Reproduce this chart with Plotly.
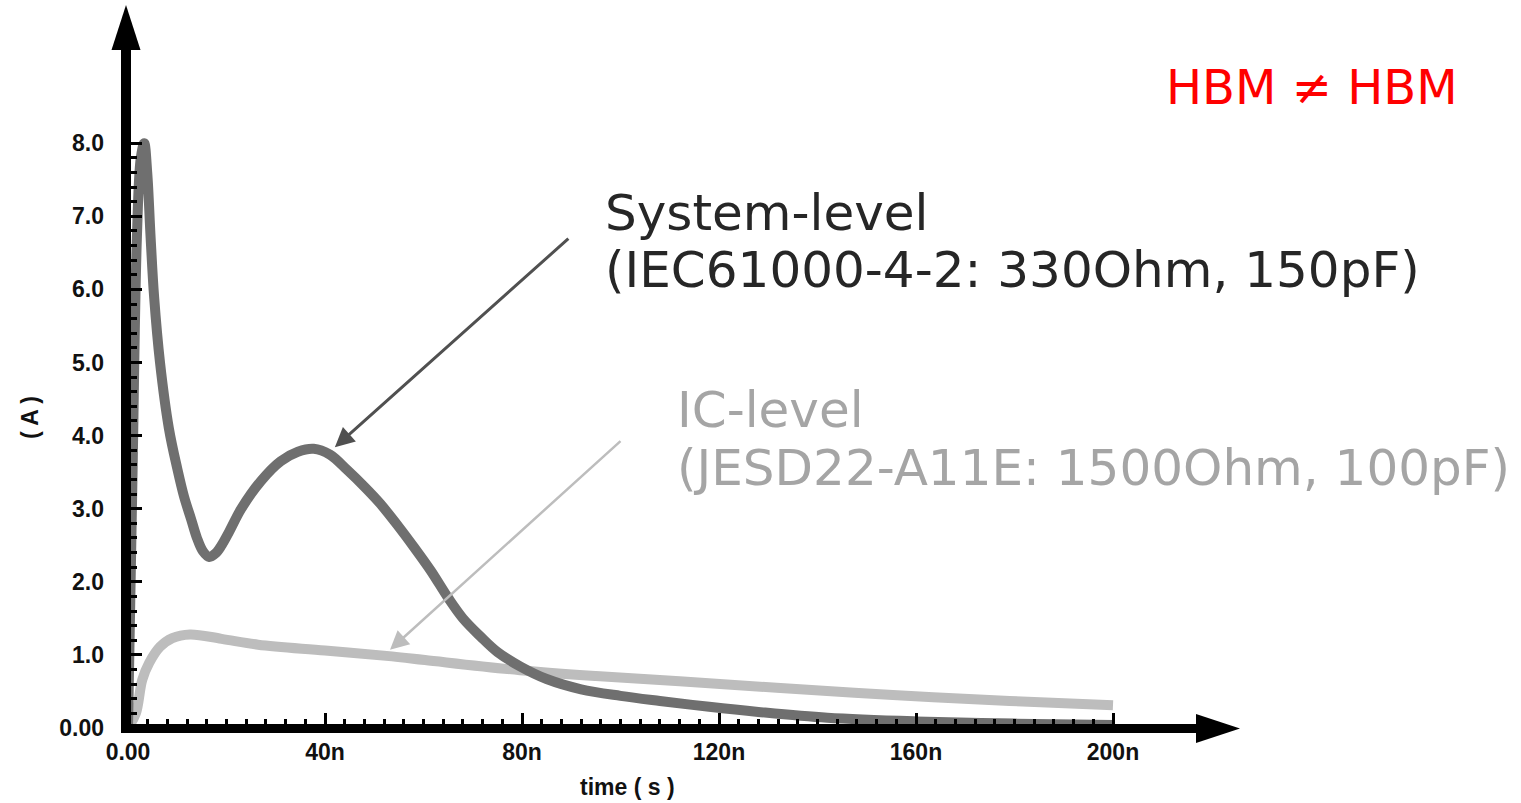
import plotly.graph_objects as go

# ---- data -------------------------------------------------------------
# System-level discharge current (IEC61000-4-2: 330 Ohm, 150 pF)
t_system_ns = [0, 0.9, 1.8, 2.6, 3.3, 3.9, 4.6, 5.3, 6.5, 8.3, 10, 11.4, 12.8,
               14, 15.2, 16.5, 17.8, 19, 20.5, 23, 27, 31, 34.5, 37.7, 41,
               44.5, 48, 51.2, 55, 58, 61.5, 65, 68, 71.6, 75, 79.7, 85, 92,
               100, 108, 118, 128, 142, 160, 180, 200]
i_system_a = [0, 3.4, 6.7, 7.8, 8.0, 7.6, 6.7, 5.9, 5.0, 4.1, 3.55, 3.16, 2.86,
              2.6, 2.42, 2.34, 2.39, 2.5, 2.68, 3.0, 3.38, 3.65, 3.78, 3.82,
              3.74, 3.53, 3.3, 3.07, 2.75, 2.48, 2.15, 1.78, 1.5, 1.25, 1.04,
              0.84, 0.67, 0.53, 0.44, 0.37, 0.29, 0.22, 0.14, 0.09, 0.06, 0.04]

# IC-level discharge current (JESD22-A11E: 1500 Ohm, 100 pF)
t_ic_ns = [0, 1.6, 2.9, 4.3, 6.5, 9, 12.6, 19, 26.4, 40, 53.6, 60.3, 79.6,
           95, 112, 131.7, 155.3, 179, 200]
i_ic_a = [0, 0.2, 0.66, 0.89, 1.11, 1.23, 1.28, 1.22, 1.14, 1.06, 0.98, 0.93,
          0.79, 0.71, 0.64, 0.55, 0.45, 0.37, 0.31]

# axis ticks
x_major = [0, 40, 80, 120, 160, 200]
x_major_text = ["0.00", "40n", "80n", "120n", "160n", "200n"]
x_minor = list(range(0, 201, 4))
y_major = [0, 1, 2, 3, 4, 5, 6, 7, 8]
y_major_text = ["0.00", "1.0", "2.0", "3.0", "4.0", "5.0", "6.0", "7.0", "8.0"]
y_minor = [k / 5 for k in range(0, 41)]

# ---- geometry (pixels) ------------------------------------------------
W, H = 1521, 803
X0_PX, X_SCALE = 128, 4.925      # pixel of t = 0, pixels per ns
Y0_PX, Y_SCALE = 728, 73.1       # pixel of I = 0, pixels per A
PLOT_RIGHT, PLOT_TOP = 1196, 50  # where the axis arrows begin


def px_x(p):
    return (p - X0_PX) / (PLOT_RIGHT - X0_PX)


def px_y(p):
    return (Y0_PX - p) / (Y0_PX - PLOT_TOP)


TICK_FONT = dict(family="Liberation Sans Narrow, Arial Narrow, Liberation Sans, Arial",
                 size=23, color="#111111", weight="bold")
TEXT_FONT = "DejaVu Sans, Verdana, sans-serif"

fig = go.Figure()

fig.add_trace(go.Scatter(
    x=t_ic_ns, y=i_ic_a, mode="lines",
    line=dict(color="#bdbdbd", width=10, shape="spline", smoothing=1.0),
    hoverinfo="skip", showlegend=False))

fig.add_trace(go.Scatter(
    x=t_system_ns, y=i_system_a, mode="lines",
    line=dict(color="#6f6f6f", width=10, shape="spline", smoothing=1.0),
    hoverinfo="skip", showlegend=False))

axis_common = dict(showline=False, showgrid=False, zeroline=False,
                   ticks="inside", tickcolor="#000000", tickwidth=3,
                   tickfont=TICK_FONT, layer="above traces", fixedrange=True)

fig.update_xaxes(range=[0, (PLOT_RIGHT - X0_PX) / X_SCALE],
                 tickmode="array", tickvals=x_major, ticktext=x_major_text,
                 ticklen=15, ticklabelstandoff=8,
                 minor=dict(tickmode="array", tickvals=x_minor, ticks="inside",
                            ticklen=9, tickwidth=3, tickcolor="#000000"),
                 **axis_common)
fig.update_yaxes(range=[0, (Y0_PX - PLOT_TOP) / Y_SCALE],
                 tickmode="array", tickvals=y_major, ticktext=y_major_text,
                 ticklen=14, ticklabelstandoff=23,
                 minor=dict(tickmode="array", tickvals=y_minor, ticks="inside",
                            ticklen=9, tickwidth=3, tickcolor="#000000"),
                 **axis_common)

# axis bars with arrow heads
shapes = [
    dict(type="rect", xref="paper", yref="paper", layer="above",
         x0=px_x(121), x1=px_x(131), y0=px_y(733), y1=px_y(PLOT_TOP),
         fillcolor="#000000", line=dict(width=0)),
    dict(type="rect", xref="paper", yref="paper", layer="above",
         x0=px_x(121), x1=px_x(PLOT_RIGHT + 1), y0=px_y(733), y1=px_y(724),
         fillcolor="#000000", line=dict(width=0)),
    dict(type="path", xref="paper", yref="paper", layer="above",
         path=(f"M {px_x(111.5)} {px_y(PLOT_TOP)} L {px_x(140.5)} {px_y(PLOT_TOP)} "
               f"L {px_x(126)} {px_y(5)} Z"),
         fillcolor="#000000", line=dict(width=0)),
    dict(type="path", xref="paper", yref="paper", layer="above",
         path=(f"M {px_x(PLOT_RIGHT)} {px_y(714)} L {px_x(PLOT_RIGHT)} {px_y(743)} "
               f"L {px_x(1240)} {px_y(728.5)} Z"),
         fillcolor="#000000", line=dict(width=0)),
]

annotations = [
    # axis titles
    dict(xref="paper", yref="paper", x=px_x(30), y=px_y(418), text="( A )",
         textangle=-90, showarrow=False, font=TICK_FONT,
         xanchor="center", yanchor="middle"),
    dict(xref="paper", yref="paper", x=px_x(627), y=px_y(787), text="time ( s )",
         showarrow=False, font=TICK_FONT, xanchor="center", yanchor="middle"),
    # callout arrows
    dict(xref="x", yref="y", x=42.0, y=3.84, ax=235, ay=-210, text="",
         showarrow=True, arrowhead=2, arrowsize=1.3, arrowwidth=3,
         arrowcolor="#505050"),
    dict(xref="x", yref="y", x=53.2, y=1.07, ax=232, ay=-210, text="",
         showarrow=True, arrowhead=2, arrowsize=1.5, arrowwidth=2.5,
         arrowcolor="#bdbdbd"),
    # labels
    dict(xref="paper", yref="paper", x=px_x(603), y=px_y(213), text="System-level",
         showarrow=False, xanchor="left", yanchor="middle",
         font=dict(family=TEXT_FONT, size=50, color="#262626")),
    dict(xref="paper", yref="paper", x=px_x(603), y=px_y(270),
         text="(IEC61000-4-2: 330Ohm, 150pF)",
         showarrow=False, xanchor="left", yanchor="middle",
         font=dict(family=TEXT_FONT, size=50, color="#262626")),
    dict(xref="paper", yref="paper", x=px_x(675), y=px_y(410), text="IC-level",
         showarrow=False, xanchor="left", yanchor="middle",
         font=dict(family=TEXT_FONT, size=50, color="#a5a5a5")),
    dict(xref="paper", yref="paper", x=px_x(675), y=px_y(468),
         text="(JESD22-A11E: 1500Ohm, 100pF)",
         showarrow=False, xanchor="left", yanchor="middle",
         font=dict(family=TEXT_FONT, size=50, color="#a5a5a5")),
    dict(xref="paper", yref="paper", x=px_x(1164), y=px_y(87), text="HBM ≠ HBM",
         showarrow=False, xanchor="left", yanchor="middle",
         font=dict(family=TEXT_FONT, size=48, color="#ff0000")),
]

fig.update_layout(
    width=W, height=H,
    margin=dict(l=X0_PX, r=W - PLOT_RIGHT, t=PLOT_TOP, b=H - Y0_PX),
    paper_bgcolor="#ffffff", plot_bgcolor="#ffffff",
    shapes=shapes, annotations=annotations,
    showlegend=False,
)

fig.write_html("out.html", config={"displayModeBar": False})
